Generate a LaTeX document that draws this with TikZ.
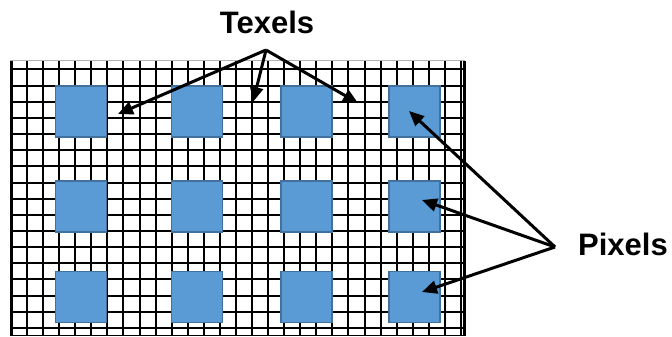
\documentclass[tikz,border=0pt]{standalone}
\usepackage{fontspec}
\setmainfont{Liberation Sans}
\usetikzlibrary{arrows.meta}
\definecolor{pixfill}{HTML}{5B9BD5}
\definecolor{pixedge}{HTML}{41719C}
\tikzset{
  gridline/.style={black, line width=2pt},
  pixelbox/.style={draw=pixedge, fill=pixfill, line width=1.5pt, minimum width=51pt, minimum height=51pt, inner sep=0pt, outer sep=0pt},
  biglabel/.style={font=\bfseries\fontsize{31}{31}\selectfont, inner sep=0pt},
  pointer/.style={line width=3pt, -{Triangle[length=15pt,width=13pt]}}
}
\begin{document}
\begin{tikzpicture}[x=1pt,y=-1pt]
  \useasboundingbox (0,0) rectangle (672,337);
  % texel grid
  \draw[gray!60, line width=1pt] (10,61) -- (465,61);
  \foreach \k in {0,...,28} {
    \draw[gridline] ({11+16.07*\k},61) -- ({11+16.07*\k},336);
  }
  \foreach \k in {0,...,16} {
    \draw[gridline] (10,{69.5+16.15*\k}) -- (465,{69.5+16.15*\k});
  }
  \draw[gridline, line width=3pt] (11,61) -- (11,336);
  \draw[gridline, line width=3pt] (464.5,61) -- (464.5,336);
  \draw[gridline, line width=1.5pt] (10,335.5) -- (465,335.5);
  % pixels
  \foreach \c/\x in {1/81, 2/197, 3/306.5, 4/414.5} {
    \foreach \r/\y in {1/111.5, 2/206.5, 3/297} {
      \node[pixelbox] (p\r\c) at (\x,\y) {};
    }
  }
  % labels
  \node[biglabel] (texels) at (267,22) {Texels};
  \node[biglabel] (pixels) at (623,244) {Pixels};
  % arrow hubs and targets
  \coordinate (texhub) at (266,50);
  \coordinate (pixhub) at (555,247);
  \coordinate (t1) at (118,114);
  \coordinate (t2) at (253,102);
  \coordinate (t3) at (358,103);
  \coordinate (q1) at (409,111);
  \coordinate (q2) at (422,200);
  \coordinate (q3) at (422,292);
  \foreach \t in {t1,t2,t3} { \draw[pointer] (texhub) -- (\t); }
  \foreach \q in {q1,q2,q3} { \draw[pointer] (pixhub) -- (\q); }
\end{tikzpicture}
\end{document}
